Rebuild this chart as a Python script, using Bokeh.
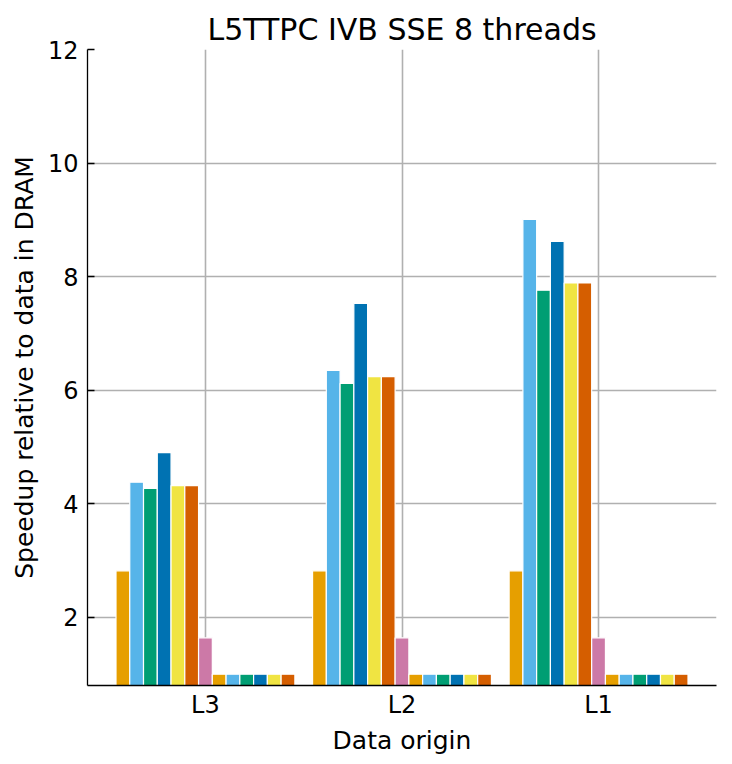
from bokeh.plotting import figure
from bokeh.models import ColumnDataSource, FixedTicker, Range1d
from bokeh.embed import file_html
from bokeh.resources import INLINE

# Data origin categories along the x axis
groups = ["L3", "L2", "L1"]

# Speedup relative to data in DRAM, 13 variants per data origin
l3_speedup = [2.82, 4.38, 4.27, 4.90, 4.32, 4.32, 1.64, 1.0, 1.0, 1.0, 1.0, 1.0, 1.0]
l2_speedup = [2.82, 6.35, 6.12, 7.53, 6.24, 6.24, 1.64, 1.0, 1.0, 1.0, 1.0, 1.0, 1.0]
l1_speedup = [2.82, 9.01, 7.76, 8.62, 7.89, 7.89, 1.64, 1.0, 1.0, 1.0, 1.0, 1.0, 1.0]

# Colour of each variant (colour-blind safe palette)
variant_colors = ["#E69F00", "#56B4E9", "#009E73", "#0072B2", "#F0E442", "#D55E00",
                  "#CC79A7", "#E69F00", "#56B4E9", "#009E73", "#0072B2", "#F0E442",
                  "#D55E00"]

y_ticks = [2, 4, 6, 8, 10, 12]

FONT = "DejaVu Sans"
BAR_W = 0.07

all_values = [l3_speedup, l2_speedup, l1_speedup]
n_var = len(variant_colors)
xs, tops, cols = [], [], []
for gi, vals in enumerate(all_values):
    for vi, v in enumerate(vals):
        xs.append(gi + (vi - (n_var - 1) / 2) * BAR_W)
        tops.append(v)
        cols.append(variant_colors[vi])

src = ColumnDataSource(dict(x=xs, top=tops, color=cols))

p = figure(width=732, height=764, output_backend="svg", toolbar_location=None,
           x_range=Range1d(-0.6, len(groups) - 0.4), y_range=Range1d(0.8, 12),
           min_border_left=87, min_border_right=16, min_border_top=49,
           min_border_bottom=79, title="L5TTPC IVB SSE 8 threads")

p.vbar(x="x", top="top", bottom=0, width=BAR_W, fill_color="color",
       line_color="white", line_width=1.2, source=src)

p.outline_line_color = None
p.background_fill_color = "white"
p.border_fill_color = "white"

p.title.align = "center"
p.title.text_font = FONT
p.title.text_font_size = "30px"
p.title.text_font_style = "normal"
p.title.text_color = "black"
p.title.standoff = 6

# x axis
p.xaxis.ticker = FixedTicker(ticks=list(range(len(groups))))
p.xaxis.major_label_overrides = {i: g for i, g in enumerate(groups)}
p.xaxis.axis_label = "Data origin"
p.xaxis.major_tick_in = 0
p.xaxis.major_tick_out = 0
p.xaxis.minor_tick_line_color = None
p.xaxis.major_label_standoff = 5
p.xaxis.axis_label_standoff = 4

# y axis
p.yaxis.ticker = FixedTicker(ticks=y_ticks)
p.yaxis.axis_label = "Speedup relative to data in DRAM"
p.yaxis.major_tick_in = 7
p.yaxis.major_tick_out = 0
p.yaxis.minor_tick_line_color = None
p.yaxis.major_label_standoff = 9
p.yaxis.axis_label_standoff = 6

for ax in (p.xaxis, p.yaxis):
    ax.axis_line_color = "black"
    ax.axis_line_width = 1.3
    ax.major_tick_line_color = "black"
    ax.major_tick_line_width = 1.3
    ax.major_label_text_font = FONT
    ax.major_label_text_font_size = "24px"
    ax.major_label_text_color = "black"
    ax.axis_label_text_font = FONT
    ax.axis_label_text_font_size = "25px"
    ax.axis_label_text_font_style = "normal"
    ax.axis_label_text_color = "black"

p.grid.grid_line_color = "#b0b0b0"
p.grid.grid_line_width = 1.6

open("out.html", "w").write(file_html(p, INLINE))
